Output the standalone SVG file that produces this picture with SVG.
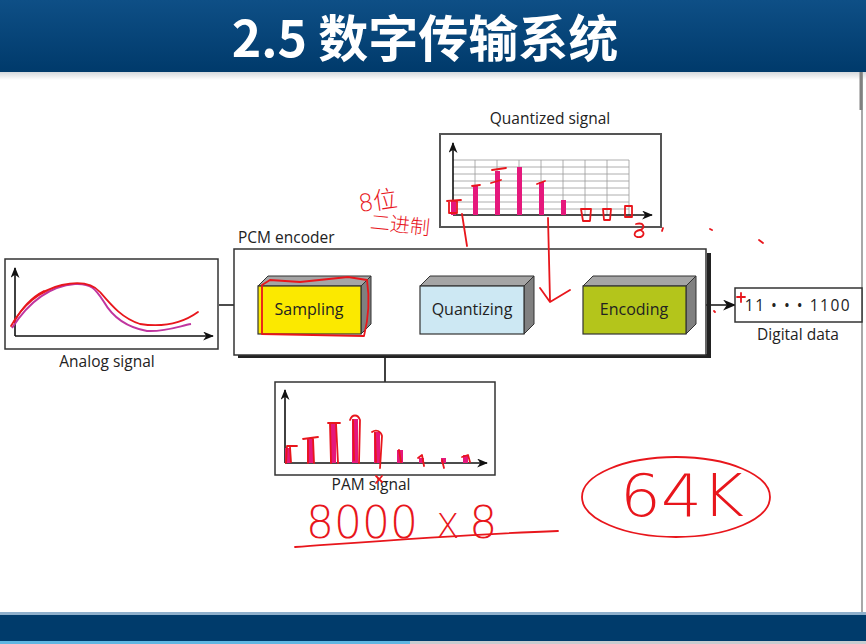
<svg xmlns="http://www.w3.org/2000/svg" width="866" height="644" viewBox="0 0 866 644">
  <defs>
    <linearGradient id="hdr" x1="0" y1="0" x2="0" y2="1">
      <stop offset="0" stop-color="#0e4f86"/>
      <stop offset="1" stop-color="#003a6b"/>
    </linearGradient>
    <linearGradient id="hdrShade" x1="0" y1="0" x2="0" y2="1">
      <stop offset="0" stop-color="#d4d8dc"/>
      <stop offset="1" stop-color="#ffffff"/>
    </linearGradient>
    <marker id="arr" viewBox="0 0 12 10" refX="11" refY="5" markerWidth="13" markerHeight="11" markerUnits="userSpaceOnUse" orient="auto">
      <path d="M0,0 L12,5 L0,10 L3.5,5 z" fill="#111"/>
    </marker>
    <marker id="axarr" viewBox="0 0 12 10" refX="11" refY="5" markerWidth="11" markerHeight="9" markerUnits="userSpaceOnUse" orient="auto">
      <path d="M0,0 L12,5 L0,10 L3.5,5 z" fill="#111"/>
    </marker>
  </defs>
  <style>
    .lbl { font-family: "Open Sans", "Liberation Sans", sans-serif; font-size: 15.5px; fill: #222; }
    .blk { font-family: "Open Sans", "Liberation Sans", sans-serif; font-size: 16px; fill: #222; text-anchor: middle; }
    .box { fill: #fff; stroke: #333; stroke-width: 1.5; }
    .side { fill: #808080; stroke: #333; stroke-width: 1; }
    .top { fill: #a5a5a5; stroke: #333; stroke-width: 1; }
    .face { stroke: #333; stroke-width: 1.2; }
    .axis { stroke: #111; stroke-width: 1.6; fill: none; marker-end: url(#axarr); }
    .wire { stroke: #111; stroke-width: 1.6; fill: none; }
    .conn { stroke: #111; stroke-width: 1.6; fill: none; marker-end: url(#arr); }
    .grid { stroke: #9a9a9a; stroke-width: 0.8; fill: none; }
    .bar { fill: #e5187c; }
    .ink { stroke: #e8161c; stroke-width: 1.8; fill: none; stroke-linecap: round; stroke-linejoin: round; }
    .inktxt { font-family: "DejaVu Sans", "Noto Sans CJK SC", sans-serif; font-weight: 200; fill: #e8161c; }
  </style>

  <!-- slide background -->
  <rect x="0" y="0" width="866" height="644" fill="#ffffff"/>
  <rect x="0" y="72" width="866" height="8" fill="url(#hdrShade)"/>
  <line x1="862" y1="72" x2="862" y2="612" stroke="#a8a8a8" stroke-width="2"/>
  <line x1="861" y1="72" x2="861" y2="110" stroke="#808080" stroke-width="3"/>

  <!-- header band -->
  <rect x="0" y="0" width="866" height="72" fill="url(#hdr)"/>
  <text x="425" y="57" text-anchor="middle" font-family="'Noto Sans CJK SC', 'Noto Sans', sans-serif" font-weight="bold" font-size="50" fill="#ffffff">2.5 数字传输系统</text>

  <!-- footer band -->
  <rect x="0" y="612" width="866" height="3" fill="#8fb0cc"/>
  <rect x="0" y="615" width="866" height="26" fill="#003b6b"/>
  <rect x="0" y="641" width="410" height="3" fill="#5fb6e2"/>
  <rect x="410" y="641" width="456" height="3" fill="#c8ccd0"/>

  <!-- connectors -->
  <g id="connectors">
    <line class="conn" x1="219" y1="305" x2="258" y2="305"/>
    <line class="conn" x1="371" y1="305" x2="420" y2="305"/>
    <line class="conn" x1="534" y1="305" x2="583" y2="305"/>
    <line class="conn" x1="696" y1="305" x2="735" y2="305"/>
    <line class="wire" x1="385" y1="305" x2="385" y2="382"/>
  </g>

  <!-- analog signal -->
  <g id="analog-signal">
    <rect class="box" x="5" y="259" width="213" height="90"/>
    <line class="axis" x1="15" y1="336" x2="15" y2="268"/>
    <line class="axis" x1="15" y1="336" x2="213" y2="336"/>
    <path d="M12,328 C30,300 50,286 75,284 C92,283 96,290 104,302 C112,316 125,327 147,331 C165,332 180,326 191,324" stroke="#c0359f" stroke-width="2" fill="none"/>
    <text class="lbl" x="107" y="367" text-anchor="middle">Analog signal</text>
  </g>

  <!-- PCM encoder frame -->
  <g id="pcm-encoder">
    <path d="M238,356 L709,356 L709,253" stroke="#222" stroke-width="4" fill="none"/>
    <rect class="box" x="234" y="249" width="472" height="106"/>
    <text class="lbl" x="238" y="243">PCM encoder</text>
  </g>

  <!-- Sampling block -->
  <g id="sampling">
    <polygon class="top" points="258,286 268,276 371,276 361,286"/>
    <polygon class="side" points="361,286 371,276 371,324 361,334"/>
    <rect class="face" x="258" y="286" width="103" height="48" fill="#fbe900"/>
    <text class="blk" x="309" y="315">Sampling</text>
  </g>

  <!-- Quantizing block -->
  <g id="quantizing">
    <polygon class="top" points="420,286 430,276 534,276 524,286"/>
    <polygon class="side" points="524,286 534,276 534,324 524,334"/>
    <rect class="face" x="420" y="286" width="104" height="48" fill="#cde8f3"/>
    <text class="blk" x="472" y="315">Quantizing</text>
  </g>

  <!-- Encoding block -->
  <g id="encoding">
    <polygon class="top" points="583,286 593,276 696,276 686,286"/>
    <polygon class="side" points="686,286 696,276 696,324 686,334"/>
    <rect class="face" x="583" y="286" width="103" height="48" fill="#b4c51b"/>
    <text class="blk" x="634" y="315">Encoding</text>
  </g>

  <!-- Digital data -->
  <g id="digital-data">
    <rect class="box" x="735" y="288" width="127" height="34"/>
    <text x="798" y="311" text-anchor="middle" font-family="'Open Sans', 'Liberation Sans', sans-serif" font-size="15.5" letter-spacing="1.5" fill="#222">11 • • • 1100</text>
    <text class="lbl" x="798" y="340" text-anchor="middle">Digital data</text>
  </g>

  <!-- PAM signal -->
  <g id="pam-signal">
    <rect class="box" x="275" y="382" width="220" height="93"/>
    <line class="axis" x1="285" y1="463" x2="285" y2="390"/>
    <line class="axis" x1="285" y1="463" x2="487" y2="463"/>
    <rect class="bar" x="285" y="448" width="6" height="15"/>
    <rect class="bar" x="307" y="438" width="6" height="25"/>
    <rect class="bar" x="330" y="424" width="6" height="39"/>
    <rect class="bar" x="352" y="419" width="6" height="44"/>
    <rect class="bar" x="374" y="432" width="6" height="31"/>
    <rect class="bar" x="397" y="450" width="6" height="13"/>
    <rect class="bar" x="419" y="458" width="5" height="5"/>
    <rect class="bar" x="441" y="458" width="5" height="5"/>
    <rect class="bar" x="463" y="455" width="5" height="8"/>
    <text class="lbl" x="371" y="490" text-anchor="middle">PAM signal</text>
  </g>

  <!-- Quantized signal -->
  <g id="quantized-signal">
    <rect x="440" y="134" width="221" height="93" fill="#fff" stroke="#555" stroke-width="2"/>
    <g class="grid">
      <path d="M453,160 H629 M453,167 H629 M453,174 H629 M453,181 H629 M453,188 H629 M453,195 H629 M453,202 H629 M453,209 H629"/>
      <path d="M475,160 V215 M497,160 V215 M519,160 V215 M541,160 V215 M563,160 V215 M585,160 V215 M607,160 V215 M629,160 V215"/>
    </g>
    <line class="axis" x1="453" y1="215" x2="453" y2="143"/>
    <line class="axis" x1="453" y1="215" x2="652" y2="215"/>
    <rect class="bar" x="451" y="201" width="5" height="14"/>
    <rect class="bar" x="473" y="185" width="5" height="30"/>
    <rect class="bar" x="495" y="171" width="5" height="44"/>
    <rect class="bar" x="517" y="167" width="5" height="48"/>
    <rect class="bar" x="539" y="182" width="5" height="33"/>
    <rect class="bar" x="561" y="200" width="5" height="15"/>
    <text class="lbl" x="550" y="124" text-anchor="middle">Quantized signal</text>
  </g>

  <!-- handwritten ink notes -->
  <g id="ink">
    <!-- traced analog curve -->
    <path class="ink" d="M11,326 C22,306 40,290 62,285 C80,281 92,283 100,292 C112,306 122,318 140,324 C160,327 180,325 198,312"/>
    <path class="ink" d="M14,322 C24,304 34,296 44,291"/>
    <!-- outline around Sampling -->
    <path class="ink" d="M262,285 L262,334 L364,336 C368,320 370,300 367,280 L348,277 L300,282 L270,280 Z"/>
    <!-- notes near Quantized signal -->
    <text class="inktxt" x="358" y="209" font-size="24" transform="rotate(-8 380 200)">8位</text>
    <text class="inktxt" x="370" y="233" font-size="20" transform="rotate(6 410 225)">二进制</text>
    <path class="ink" d="M462,214 L467,246"/>
    <path class="ink" d="M548,218 L550,300 M540,288 L550,302 L570,290"/>
    <!-- caps on quantized bars -->
    <path class="ink" d="M447,201 L461,200 M449,201 L449,213 L457,213 L457,201"/>
    <path class="ink" d="M472,186 L480,185 M491,183 L501,180 M492,170 L506,168 M537,184 L545,181"/>
    <path class="ink" d="M581,209 L591,209 L590,221 L583,221 Z M603,209 L611,209 L610,220 L604,220 Z M625,206 L632,206 L632,217 L625,217 Z"/>
    <path class="ink" d="M636,224 C644,222 646,228 640,230 C646,232 644,238 637,237 C633,236 634,231 640,230"/>
    <path class="ink" d="M663,228 L662,231 M710,229 L712,230 M759,240 L763,243"/>
    <path class="ink" d="M737,297 L745,297 M741,293 L741,302 M714,311 L715,312"/>
    <!-- traced PAM bars -->
    <path class="ink" d="M286,463 L287,446 L297,446 M290,447 L291,462"/>
    <path class="ink" d="M303,439 L318,437 M308,440 L308,463 M313,438 L314,463"/>
    <path class="ink" d="M328,423 L340,423 M330,424 L331,463 M336,423 L338,463"/>
    <path class="ink" d="M350,420 C352,414 358,414 360,420 L359,463 M353,420 L354,460"/>
    <path class="ink" d="M372,432 C376,429 381,431 382,436 L380,468 M375,433 L376,462"/>
    <path class="ink" d="M399,450 L401,462 M418,458 L422,455 L424,466 M442,460 L444,468 M462,457 L468,455 L470,462"/>
    <path class="ink" d="M376,476 L382,482 M382,476 L376,483"/>
    <!-- calculation -->
    <text class="inktxt" x="306" y="538" font-size="44">8000<tspan font-size="34" dx="18">X</tspan><tspan font-size="44" dx="10">8</tspan></text>
    <path class="ink" d="M295,547 C380,541 470,534 558,531"/>
    <ellipse class="ink" cx="676" cy="497" rx="94" ry="40"/>
    <text class="inktxt" x="620" y="516" font-size="58" textLength="124" lengthAdjust="spacingAndGlyphs">64K</text>
  </g>
</svg>
